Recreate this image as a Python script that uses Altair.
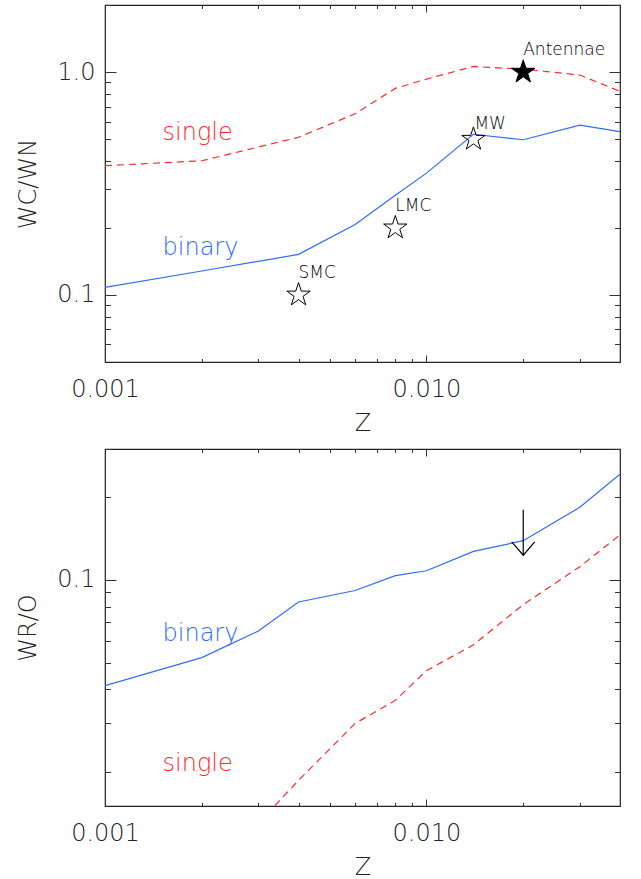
import altair as alt
import pandas as pd

# ---------------- data ----------------
# top panel: WC/WN ratio vs metallicity
top_z = [0.001, 0.002, 0.004, 0.006, 0.008, 0.010, 0.014, 0.020, 0.030, 0.040]
top_single = [0.38, 0.40, 0.51, 0.65, 0.845, 0.93, 1.06, 1.03, 0.97, 0.82]
top_binary = [0.108, 0.128, 0.152, 0.207, 0.28, 0.352, 0.526, 0.497, 0.578, 0.541]

# bottom panel: WR/O ratio vs metallicity
bot_z = [0.001, 0.002, 0.003, 0.004, 0.006, 0.008, 0.010, 0.014, 0.020, 0.030, 0.040]
bot_binary = [0.0412, 0.0521, 0.0651, 0.0831, 0.0915, 0.1037, 0.108, 0.127, 0.139, 0.184, 0.243]
bot_single_z = [0.003, 0.004, 0.006, 0.008, 0.010, 0.014, 0.020, 0.030, 0.040]
bot_single = [0.013, 0.0186, 0.030, 0.0364, 0.0467, 0.058, 0.0813, 0.1117, 0.146]

# observed galaxies (top panel)
obs_names = ["SMC", "LMC", "MW", "Antennae"]
obs_z = [0.004, 0.008, 0.014, 0.020]
obs_ratio = [0.10, 0.20, 0.50, 1.00]
obs_fill = ["transparent", "transparent", "transparent", "#000000"]
obs_label_z = [0.004, 0.008, 0.0141, 0.020]
obs_label_y = [0.1196, 0.237, 0.558, 1.19]

# curve labels
curve_names = ["single", "binary"]
curve_colors = ["#ff2a2a", "#2f6bff"]
curve_label_z = [0.00151, 0.00151]
top_label_y = [0.497, 0.1505]
bot_label_y = [0.0201, 0.0599]

# upper limit (bottom panel)
limit_z = [0.020]
limit_top = [0.180]
limit_tip = [0.123]

# axis ticks
x_major = [0.001, 0.01]
x_minor = [0.002, 0.003, 0.004, 0.005, 0.006, 0.007, 0.008, 0.009, 0.02, 0.03, 0.04]
top_y_major = [0.1, 1.0]
top_y_minor = [0.06, 0.07, 0.08, 0.09, 0.2, 0.3, 0.4, 0.5, 0.6, 0.7, 0.8, 0.9, 2.0]
bot_y_major = [0.1]
bot_y_minor = [0.02, 0.03, 0.04, 0.05, 0.06, 0.07, 0.08, 0.09, 0.2, 0.3]

RED = "#ff2a2a"
BLUE = "#2f6bff"
FONT = "DejaVu Sans"
W, H = 515, 357
XMAJ, XMIN, YMAJ, YMIN = 7, 3.5, 11, 5.5
STAR = ("M0,-1L0.2245,-0.309L0.951,-0.309L0.3633,0.118L0.588,0.809L0,0.382"
        "L-0.588,0.809L-0.3633,0.118L-0.951,-0.309L-0.2245,-0.309Z")
VHEAD = "M-1,-1.16L0,0L1,-1.16"

X_SCALE = alt.Scale(type="log", domain=[0.001, 0.04], nice=False)
TOP_Y = alt.Scale(type="log", domain=[0.05, 2.0], nice=False)
BOT_Y = alt.Scale(type="log", domain=[0.015, 0.3], nice=False)


def ax(orient, values, size, labels=False, title=None, fmt=None):
    kw = dict(orient=orient, values=values, tickSize=size, offset=-size,
              domain=False, grid=False, labels=labels, ticks=True, title=title,
              tickColor="#333333", tickWidth=1)
    if fmt:
        kw["format"] = fmt
    if labels:
        kw.update(labelFontSize=24, labelFont=FONT, labelFontWeight=200,
                  labelColor="#222222", labelFlush=False,
                  labelPadding=15 if orient in ("bottom", "top") else 10)
    if title:
        kw.update(titleFontSize=24, titleFont=FONT, titleFontWeight=200,
                  titleColor="#222222",
                  titlePadding=10 if orient in ("bottom", "top") else 16)
    return alt.Axis(**kw)


def panel(yscale, ymaj, ymin, ytitle, single_z, single_v, binary_z, binary_v, label_y):
    df_single = pd.DataFrame({"z": single_z, "v": single_v})
    df_binary = pd.DataFrame({"z": binary_z, "v": binary_v})
    df_lab = pd.DataFrame({"z": curve_label_z, "v": label_y,
                           "t": curve_names, "c": curve_colors})

    single = alt.Chart(df_single).mark_line(
        color=RED, strokeDash=[7, 5], strokeWidth=1.2, clip=True
    ).encode(
        x=alt.X("z:Q", scale=X_SCALE,
                axis=ax("bottom", x_major, XMAJ, labels=True, title="Z", fmt=".3f")),
        y=alt.Y("v:Q", scale=yscale,
                axis=ax("left", ymaj, YMAJ, labels=True, title=ytitle, fmt=".1f")),
    )
    binary = alt.Chart(df_binary).mark_line(
        color=BLUE, strokeWidth=1.2, clip=True
    ).encode(
        x=alt.X("z:Q", scale=X_SCALE, axis=ax("bottom", x_minor, XMIN)),
        y=alt.Y("v:Q", scale=yscale, axis=ax("left", ymin, YMIN)),
    )
    labels = alt.Chart(df_lab).mark_text(
        align="left", baseline="alphabetic", fontSize=24, font=FONT, fontWeight=200
    ).encode(
        x=alt.X("z:Q", scale=X_SCALE, axis=ax("top", x_major, XMAJ)),
        y=alt.Y("v:Q", scale=yscale, axis=ax("right", ymaj, YMAJ)),
        text="t:N",
        color=alt.Color("c:N", scale=None),
    )
    return [single, binary, labels]


# ---------- top panel ----------
top_layers = panel(TOP_Y, top_y_major, top_y_minor, "WC/WN",
                   top_z, top_single, top_z, top_binary, top_label_y)

df_obs = pd.DataFrame({"z": obs_z, "v": obs_ratio, "f": obs_fill})
stars = alt.Chart(df_obs).mark_point(
    shape=STAR, size=605, stroke="#000000", strokeWidth=1, opacity=1, filled=False
).encode(
    x=alt.X("z:Q", scale=X_SCALE, axis=ax("top", x_minor, XMIN)),
    y=alt.Y("v:Q", scale=TOP_Y, axis=ax("right", top_y_minor, YMIN)),
    fill=alt.Fill("f:N", scale=None),
)
df_obs_lab = pd.DataFrame({"z": obs_label_z, "v": obs_label_y, "t": obs_names})
obs_text = alt.Chart(df_obs_lab).mark_text(
    align="left", baseline="alphabetic", fontSize=17, font=FONT, fontWeight=300,
    color="#000000"
).encode(
    x=alt.X("z:Q", scale=X_SCALE, axis=None),
    y=alt.Y("v:Q", scale=TOP_Y, axis=None),
    text="t:N",
)

top = alt.layer(*top_layers, stars, obs_text).resolve_axis(
    x="independent", y="independent"
).properties(width=W, height=H)

# ---------- bottom panel ----------
bot_layers = panel(BOT_Y, bot_y_major, bot_y_minor, "WR/O",
                   bot_single_z, bot_single, bot_z, bot_binary, bot_label_y)

df_lim = pd.DataFrame({"z": limit_z, "top": limit_top, "tip": limit_tip})
lim_rule = alt.Chart(df_lim).mark_rule(color="#000000", strokeWidth=1.2).encode(
    x=alt.X("z:Q", scale=X_SCALE, axis=ax("top", x_minor, XMIN)),
    y=alt.Y("top:Q", scale=BOT_Y, axis=ax("right", bot_y_minor, YMIN)),
    y2="tip:Q",
)
lim_head = alt.Chart(df_lim).mark_point(
    shape=VHEAD, size=529, stroke="#000000", strokeWidth=1.2, filled=False, opacity=1
).encode(
    x=alt.X("z:Q", scale=X_SCALE, axis=None),
    y=alt.Y("tip:Q", scale=BOT_Y, axis=None),
)

bottom = alt.layer(*bot_layers, lim_rule, lim_head).resolve_axis(
    x="independent", y="independent"
).properties(width=W, height=H)

chart = alt.vconcat(top, bottom, spacing=11).properties(
    padding={"left": 16, "top": 3, "right": 5, "bottom": 2},
    background="white",
).configure_view(stroke="#222222", strokeWidth=1.2)

chart.save("out.html", embed_options={"renderer": "svg", "actions": False})
